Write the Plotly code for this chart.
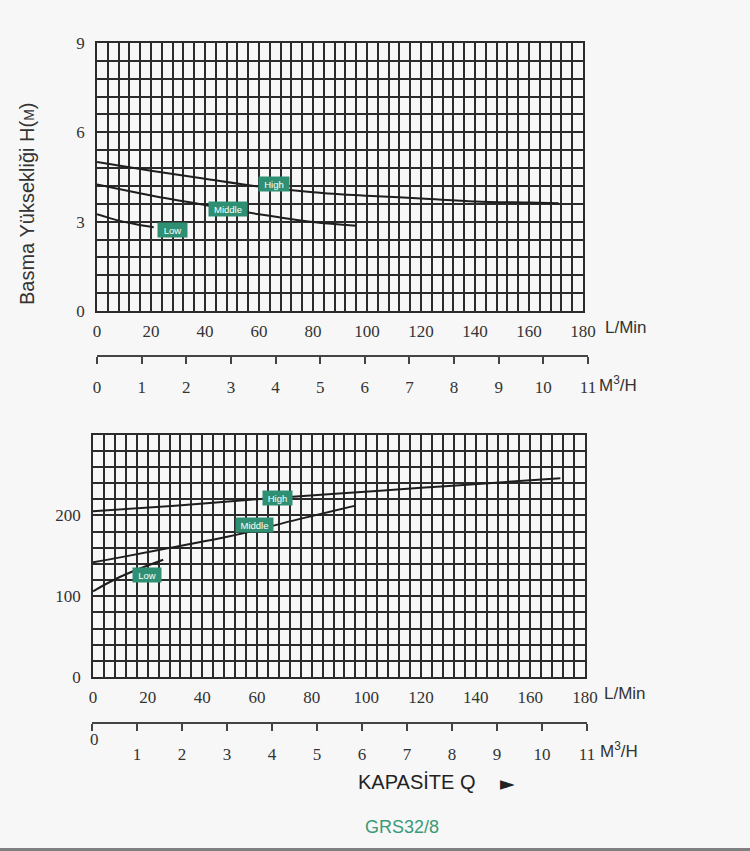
import plotly.graph_objects as go

# ---------------- data ----------------
# Top chart: head H (m) vs capacity Q (L/min)
top_q_high = [0, 20, 40, 60, 80, 100, 120, 140, 160, 171]
top_h_high = [5.0, 4.71, 4.44, 4.18, 3.99, 3.87, 3.78, 3.68, 3.64, 3.62]
top_q_mid = [0, 20, 40, 60, 80, 96]
top_h_mid = [4.25, 3.88, 3.56, 3.25, 2.99, 2.86]
top_q_low = [0, 7, 14, 21]
top_h_low = [3.25, 3.06, 2.92, 2.81]

# Bottom chart: power vs capacity Q (L/min)
bot_q_high = [0, 30, 60, 90, 120, 150, 171]
bot_p_high = [205, 212, 220, 227, 234, 241, 246]
bot_q_mid = [0, 10, 30, 50, 75, 96]
bot_p_mid = [142, 148, 161, 174, 195, 212]
bot_q_low = [0, 10, 25.7]
bot_p_low = [106, 124, 145]

lmin_ticks = [0, 20, 40, 60, 80, 100, 120, 140, 160, 180]
m3h_ticks = [0, 1, 2, 3, 4, 5, 6, 7, 8, 9, 10, 11]
top_y_ticks = [0, 3, 6, 9]
bot_y_ticks = [0, 100, 200]
speed_names = ["High", "Middle", "Low"]

# ---------------- styling ----------------
W, H = 750, 851
BG = "#f7f7f7"
GRID = "#2b2b2b"
TXT = "#333333"
TEAL = "#2f8f72"
SERIF = "Liberation Serif"
SANS = "Liberation Sans"

def px(x):
    return x / W

def py(y):
    return 1 - y / H

fig = go.Figure()

line_style = dict(color="#1e1e1e", width=2, shape="spline")
for q, h in [(top_q_high, top_h_high), (top_q_mid, top_h_mid), (top_q_low, top_h_low)]:
    fig.add_trace(go.Scatter(x=q, y=h, mode="lines", line=line_style,
                             xaxis="x", yaxis="y", showlegend=False, hoverinfo="skip"))
for q, p in [(bot_q_high, bot_p_high), (bot_q_mid, bot_p_mid), (bot_q_low, bot_p_low)]:
    fig.add_trace(go.Scatter(x=q, y=p, mode="lines", line=line_style,
                             xaxis="x2", yaxis="y2", showlegend=False, hoverinfo="skip"))
# invisible traces to host the secondary m3/h axes (on thin helper subplots)
fig.add_trace(go.Scatter(x=[0, 11], y=[0, 0], mode="none", xaxis="x3", yaxis="y3",
                         showlegend=False, hoverinfo="skip"))
fig.add_trace(go.Scatter(x=[0, 11], y=[0, 0], mode="none", xaxis="x4", yaxis="y4",
                         showlegend=False, hoverinfo="skip"))

tickfont = dict(family=SERIF, size=17, color=TXT)

def xgrid(domain, anchor):
    return dict(domain=domain, anchor=anchor, range=[0, 180], tickvals=lmin_ticks,
                showgrid=True, gridcolor=GRID, gridwidth=1.6,
                minor=dict(dtick=4, tick0=0, showgrid=True, gridcolor=GRID, gridwidth=1.6),
                showline=True, mirror=True, linecolor=GRID, linewidth=1.6,
                ticks="", tickfont=tickfont, ticklabelstandoff=4, zeroline=False,
                automargin=False, fixedrange=True)

def ygrid(domain, anchor, rng, tv, minor_dt):
    return dict(domain=domain, anchor=anchor, range=rng, tickvals=tv,
                showgrid=True, gridcolor=GRID, gridwidth=1.6,
                minor=dict(dtick=minor_dt, tick0=0, showgrid=True, gridcolor=GRID, gridwidth=1.6),
                showline=True, mirror=True, linecolor=GRID, linewidth=1.6,
                ticks="", tickfont=tickfont, ticklabelstandoff=7, zeroline=False,
                automargin=False, fixedrange=True)

def m3axis(domain, anchor, ticktext):
    return dict(domain=domain, anchor=anchor, range=[0, 11],
                tickvals=m3h_ticks, ticktext=ticktext, showgrid=False, zeroline=False,
                showline=True, linecolor="#444444", linewidth=1.5,
                ticks="outside", ticklen=7, tickwidth=1.5, tickcolor="#444444",
                tickfont=tickfont, ticklabelstandoff=9, side="bottom",
                automargin=False, fixedrange=True)

def helper_y(ypix, anchor):
    return dict(domain=[py(ypix), py(ypix) + 0.002], anchor=anchor, visible=False,
                range=[-1, 1], fixedrange=True, automargin=False)

fig.update_layout(
    width=W, height=H,
    margin=dict(l=0, r=0, t=0, b=0, pad=0, autoexpand=False),
    paper_bgcolor=BG, plot_bgcolor=BG,
    xaxis=xgrid([px(97), px(583)], "y"),
    yaxis=ygrid([py(311), py(43)], "x", [0, 9], top_y_ticks, 0.6),
    xaxis2=xgrid([px(93), px(585)], "y2"),
    yaxis2=ygrid([py(677), py(434.5)], "x2", [0, 300], bot_y_ticks, 20),
    xaxis3=m3axis([px(97), px(588)], "y3", [str(v) for v in m3h_ticks]),
    yaxis3=helper_y(355, "x3"),
    xaxis4=m3axis([px(92), px(587)], "y4", [""] + [str(v) for v in m3h_ticks[1:]]),
    yaxis4=helper_y(722, "x4"),
)

ann = []
# curve labels
label_boxes = [
    ("x", "y", 65.6, 4.26, 30), ("x", "y", 48.5, 3.43, 38), ("x", "y", 28.0, 2.72, 29),
    ("x2", "y2", 67.5, 222, 29), ("x2", "y2", 59.1, 188.6, 37), ("x2", "y2", 19.8, 125.7, 28),
]
for i, (xr, yr, xv, yv, w) in enumerate(label_boxes):
    ann.append(dict(xref=xr, yref=yr, x=xv, y=yv, text=speed_names[i % 3], showarrow=False,
                    bgcolor=TEAL, width=w, height=14, borderpad=0,
                    font=dict(family=SANS, size=9.5, color="white")))

unit_font = dict(family=SANS, size=17, color=TXT)
ann += [
    dict(xref="paper", yref="paper", x=px(603), y=py(327), text="L/Min", showarrow=False,
         xanchor="left", yanchor="middle", font=unit_font),
    dict(xref="paper", yref="paper", x=px(597), y=py(384), text="M<sup>3</sup>/H", showarrow=False,
         xanchor="left", yanchor="middle", font=unit_font),
    dict(xref="paper", yref="paper", x=px(602), y=py(693), text="L/Min", showarrow=False,
         xanchor="left", yanchor="middle", font=unit_font),
    dict(xref="paper", yref="paper", x=px(598), y=py(750), text="M<sup>3</sup>/H", showarrow=False,
         xanchor="left", yanchor="middle", font=unit_font),
    dict(xref="paper", yref="paper", x=px(94), y=py(739), text="0", showarrow=False,
         xanchor="center", yanchor="middle", font=tickfont),
    dict(xref="paper", yref="paper", x=px(27), y=py(204),
         text="Basma Yüksekliği H(<span style='font-size:14px'>M</span>)",
         showarrow=False, textangle=-90, xanchor="center", yanchor="middle",
         font=dict(family=SANS, size=20, color=TXT)),
    dict(xref="paper", yref="paper", x=px(416), y=py(782), text="KAPASİTE Q", showarrow=False,
         xanchor="center", yanchor="middle", font=dict(family=SANS, size=20, color="#222222")),
    dict(xref="paper", yref="paper", x=px(507), y=py(783), text="►", showarrow=False,
         xanchor="center", yanchor="middle", font=dict(family="DejaVu Sans", size=19, color="#222222")),
    dict(xref="paper", yref="paper", x=px(402), y=py(827), text="GRS32/8", showarrow=False,
         xanchor="center", yanchor="middle", font=dict(family=SANS, size=18, color="#3a9a78")),
]
fig.update_layout(annotations=ann)

fig.add_shape(type="rect", xref="paper", yref="paper", x0=0, x1=1, y0=0, y1=3 / H,
              fillcolor="#808080", line=dict(width=0))

fig.write_html("out.html")
